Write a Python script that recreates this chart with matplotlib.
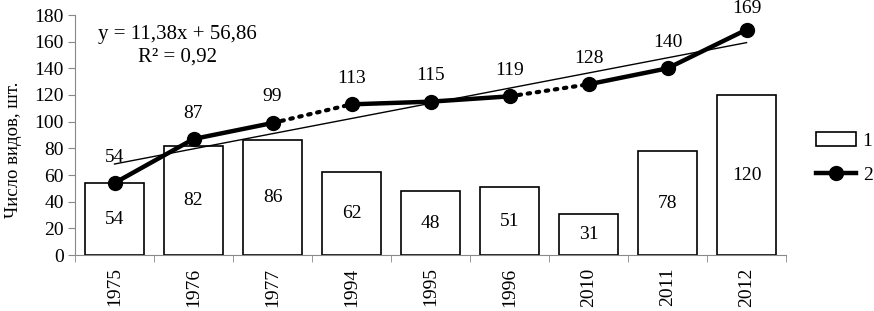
import matplotlib
matplotlib.use("Agg")
import matplotlib.pyplot as plt
from matplotlib.patches import Patch
from matplotlib.lines import Line2D
import numpy as np

years = ["1975", "1976", "1977", "1994", "1995", "1996", "2010", "2011", "2012"]
bars = [54, 82, 86, 62, 48, 51, 31, 78, 120]
line = [54, 87, 99, 113, 115, 119, 128, 140, 169]
solid_groups = [(0, 3), (3, 6), (6, 9)]
trend_slope = 11.38
trend_icept = 56.86
eq_text = "y = 11,38x + 56,86"
r2_text = "R² = 0,92"
ylabel = "Число видов, шт."

plt.rcParams['font.family'] = ['Liberation Serif', 'DejaVu Serif']
FS = 14

W, H = 874, 311
fig = plt.figure(figsize=(W/100, H/100), dpi=100)
ax = fig.add_axes([75/W, 1-255/H, (786-75)/W, 240/H])

x = np.arange(len(years))
ax.bar(x, bars, width=0.74, facecolor='white', edgecolor='black', linewidth=1.2, zorder=2)
for xi, v in zip(x, bars):
    ax.text(xi, v/2, str(v), ha='center', va='center', fontsize=FS, zorder=5)

# trend line
tx = np.array([0, len(years)-1])
ax.plot(tx, trend_slope*(tx+1)+trend_icept, color='black', lw=1.0, zorder=3)

# solid segments
for a, b in solid_groups:
    ax.plot(x[a:b], line[a:b], color='black', lw=3.2, marker='o', ms=10, zorder=4)
# dotted connections
for (a, b), (c, d) in zip(solid_groups[:-1], solid_groups[1:]):
    ax.plot([x[b-1], x[c]], [line[b-1], line[c]], color='black', lw=3, ls=(0, (0.6, 1.6)),
            dash_capstyle='round', zorder=4)

ax.set_xlim(-0.5, len(years)-0.5)
ax.set_ylim(0, 180)

# data labels above line points, kept inside the figure
px_per_unit = 240/180
for xi, v in zip(x, line):
    y_from_top = 15 + (180 - v)*px_per_unit
    off_px = min(26, y_from_top - 9)
    ax.annotate(str(v), (xi, v), xytext=(0, off_px*72/100), textcoords='offset points',
                ha='center', va='center', fontsize=FS, zorder=5)

ax.text(0.8, 165, eq_text, ha='center', va='center', fontsize=15)
ax.text(0.8, 148.5, r2_text, ha='center', va='center', fontsize=15)

ax.set_yticks(range(0, 181, 20))
ax.set_xticks(x)
ax.set_xticklabels(years, rotation=90, fontsize=FS)
ax.tick_params(axis='x', length=0, pad=9)
ax.set_xticks(np.arange(-0.5, len(years)), minor=True)
ax.tick_params(axis='x', which='minor', length=5, direction='out', color='#888888')
ax.tick_params(axis='y', labelsize=FS, length=5, color='#888888', pad=3)
for s in ['top', 'right']:
    ax.spines[s].set_visible(False)
ax.spines['left'].set_color('#888888')
ax.spines['bottom'].set_color('#888888')
ax.set_ylabel(ylabel, fontsize=13.5)
ax.yaxis.set_label_coords(-53/711, 0.44)

handles = [Patch(facecolor='white', edgecolor='black', linewidth=1.2),
           Line2D([0], [0], color='black', lw=3.2, marker='o', ms=10)]
fig.legend(handles, ["1", "2"], loc='center left', bbox_to_anchor=(816/W, 1-158/H),
           frameon=False, fontsize=FS, handlelength=2.05, handletextpad=0.35,
           labelspacing=0.85, borderpad=0, borderaxespad=0)

fig.savefig("out.png", dpi=100)
